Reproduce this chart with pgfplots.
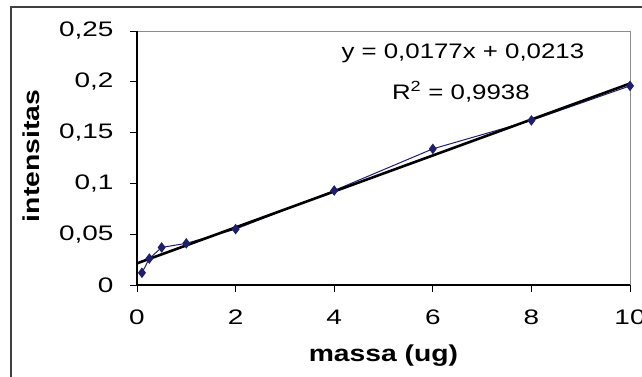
\documentclass[border=0pt]{standalone}
\usepackage{pgfplots}
\pgfplotsset{compat=1.18}
\usepackage{fontspec}
\setmainfont{Liberation Sans}[FakeStretch=1.23]
\newfontfamily\tickfont{Liberation Sans}[FakeStretch=1.33]
\definecolor{navy}{RGB}{30,30,110}
\begin{document}
\begin{tikzpicture}[x=1pt,y=1pt]
\path[use as bounding box] (0,0) rectangle (642,376);
\draw[line width=1.2pt,black!75] (11,-2) -- (11,369) -- (645,369);
\begin{axis}[
  scale only axis, width=493pt, height=254pt,
  at={(137pt,91pt)}, anchor=south west,
  xmin=0, xmax=10, ymin=0, ymax=0.25,
  xtick={0,2,...,10}, ytick={0,0.05,...,0.25},
  axis line style={draw=none},
  tick align=outside, major tick length=7pt,
  tick style={black, line width=0.9pt},
  xtick pos=bottom, ytick pos=left,
  /pgf/number format/.cd, use comma, fixed, precision=2, assume math mode=true,
  /pgfplots/.cd,
  ticklabel style={font=\tickfont\fontsize{21}{21}\selectfont},
  yticklabel style={xshift=-13pt},
  xticklabel style={yshift=-25pt, anchor=center},
  xlabel={\textbf{massa (ug)}}, ylabel={\textbf{intensitas}},
  label style={font=\fontsize{23}{23}\selectfont},
  xlabel style={at={(axis description cs:0.5,-0.2795)}, anchor=center},
  ylabel style={at={(axis description cs:-0.215,0.508)}, anchor=center},
  clip=false,
]
\draw[black!45, line width=0.9pt] (axis cs:0,0.25) -- (axis cs:10,0.25) -- (axis cs:10,0);
\draw[black, line width=1.2pt] (axis cs:0,0.25) -- (axis cs:0,0) -- (axis cs:10,0);
\addplot[navy, line width=1pt, mark=diamond*, mark size=4.5pt, mark options={fill=navy}]
coordinates {(0.1,0.012) (0.25,0.026) (0.5,0.037) (1,0.041) (2,0.055) (4,0.093) (6,0.134) (8,0.162) (10,0.196)};
\addplot[black, line width=2.6pt] coordinates {(0,0.0213) (10,0.1983)};
\node[font=\fontsize{21}{21}\selectfont] at (axis cs:6.61,0.2283) {y = 0,0177x + 0,0213};
\node[font=\fontsize{21}{21}\selectfont] at (axis cs:6.57,0.19) {R\textsuperscript{2} = 0,9938};
\end{axis}
\end{tikzpicture}
\end{document}
